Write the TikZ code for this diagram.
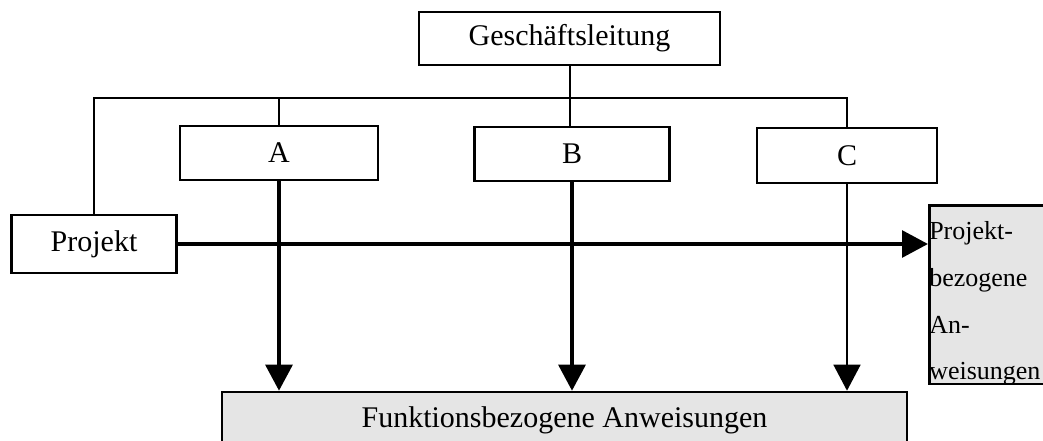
\documentclass[tikz,border=0pt]{standalone}
\usepackage{fontspec}
\setmainfont{Liberation Serif}
\usetikzlibrary{arrows.meta}
\definecolor{boxgray}{gray}{0.9}

\begin{document}
\begin{tikzpicture}[x=0.75pt, y=-0.75pt,
		unit/.style = {draw, line width=1.9pt, fill=white, inner sep=0pt, font=\fontsize{22.5}{26}\selectfont},
		result/.style = {unit, fill=boxgray},
		link/.style = {line width=1.5pt},
		flow/.style = {line width=3pt, -{Triangle[length=19.5pt,width=20pt]}},
		thinflow/.style = {flow, line width=2pt}]
		\useasboundingbox (0,0) rectangle (1043,441);
		%Management and the three departments
		\node[unit, minimum width=226pt, minimum height=40pt] (gl) at (569.5,38.5) {Geschäftsleitung};
		\node[unit, minimum width=148.5pt, minimum height=40.5pt] (a) at (279,153) {A};
		\node[unit, minimum width=146pt, minimum height=40.5pt] (b) at (572,154) {B};
		\node[unit, minimum width=135pt, minimum height=41pt] (c) at (847,155.5) {C};
		\node[unit, minimum width=124pt, minimum height=43.5pt] (projekt) at (94,244) {Projekt};
		%Instruction boxes
		\node[result, minimum width=514pt, minimum height=42pt] (fa) at (564.5,420) {Funktionsbezogene Anweisungen};
		\node[result, anchor=north west, minimum width=99pt, minimum height=134pt] (pa) at (928,204) {};
		\node[anchor=base west, inner sep=0pt, align=left, font=\fontsize{19.5}{35}\selectfont] (pat) at (929,380)
			{Projekt-\\bezogene\\An-\\weisungen};
		
		%Lines of the hierarchy
		\coordinate (bar) at (0,98);
		\draw[link] (gl.south) -- (gl.south |- b.north); %Management -> B
		\draw[link] (projekt.north) |- (c.north |- bar) -- (c.north); %Bar over A, B, C
		\draw[link] (a.north) -- (a.north |- bar); %Bar -> A
		
		%Instructions
		\draw[flow] (a.south) -- (a.south |- fa.north); %A -> functional
		\draw[flow] (b.south) -- (b.south |- fa.north); %B -> functional
		\draw[thinflow] (c.south) -- (c.south |- fa.north); %C -> functional
		\draw[flow] (projekt.east) -- (projekt.east -| pa.west); %Project -> project related
	\end{tikzpicture}
\end{document}
